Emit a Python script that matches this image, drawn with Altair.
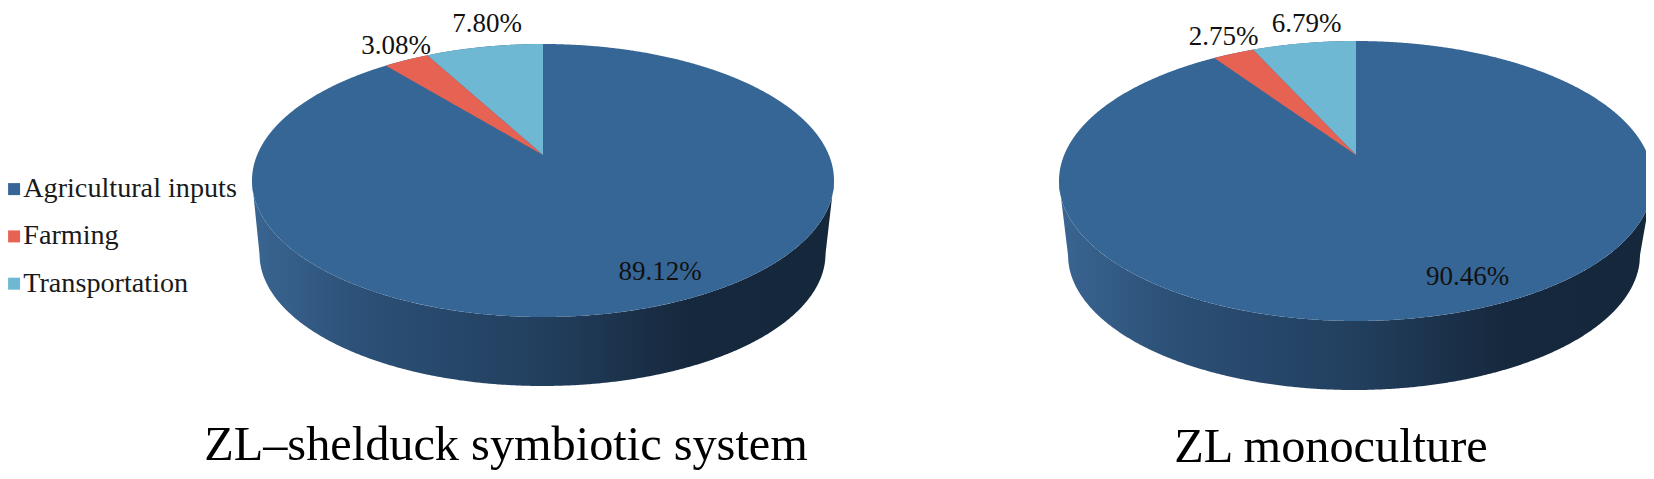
import numpy as np
import pandas as pd
import altair as alt

CATEGORIES = ["Agricultural inputs", "Farming", "Transportation"]
COLORS = ["#366695", "#e66253", "#6fb8d4"]
LEFT_VALUES = [89.12, 3.08, 7.80]
RIGHT_VALUES = [90.46, 2.75, 6.79]
LEFT_TITLE = "ZL\u2013shelduck symbiotic system"
RIGHT_TITLE = "ZL monoculture"
FONT = "Liberation Serif"

# pie geometry: apex, top ellipse, lower ellipse, angular foreshortening
LEFT_GEO = dict(cx=543, cy=180.5, a=291, b=136.5, ay=155, cx2=542.5, cy2=254, a2=283, b2=132, k=0.835)
RIGHT_GEO = dict(cx=1356, cy=181, a=297, b=140, ay=155, cx2=1354, cy2=255, a2=286, b2=135, k=0.83)

LEFT_LABELS = [(660, 272), (396, 46), (487, 24)]
RIGHT_LABELS = [(1467.5, 277), (1223.5, 37), (1306.5, 24)]
LEFT_TITLE_POS = (506, 446)
RIGHT_TITLE_POS = (1331, 448)

XS = alt.X("x:Q", axis=None, scale=alt.Scale(domain=[8, 1646], nice=False, zero=False))
YS = alt.Y("y:Q", axis=None, scale=alt.Scale(domain=[471, 8], nice=False, zero=False))
Y2 = alt.Y2("y2:Q")
COL = alt.Color("cat:N", scale=alt.Scale(domain=CATEGORIES, range=COLORS),
                legend=alt.Legend(title=None, orient="none", legendX=-8, legendY=167, padding=0,
                                  symbolType="square", symbolSize=144, symbolStrokeWidth=0,
                                  labelFont=FONT, labelFontSize=28.2, labelColor="#1a1a1a",
                                  labelLimit=400, labelOffset={"expr": "-5"}, rowPadding=18.3))


def wall_frame(g):
    u = np.cos(np.linspace(np.pi, 0, 500))
    x = g["cx"] + g["a"] * u
    top = g["cy"] + g["b"] * np.sqrt(1 - u ** 2)
    d = (x - g["cx2"]) / g["a2"]
    low = np.where(np.abs(d) <= 1, g["cy2"] + g["b2"] * np.sqrt(np.clip(1 - d ** 2, 0, 1)), 0.0)
    left = x < g["cx2"] - g["a2"]
    right = x > g["cx2"] + g["a2"]
    low[left] = g["cy"] + (g["cy2"] - g["cy"]) * (x[left] - (g["cx"] - g["a"])) / ((g["cx2"] - g["a2"]) - (g["cx"] - g["a"]))
    low[right] = g["cy"] + (g["cy2"] - g["cy"]) * ((g["cx"] + g["a"]) - x[right]) / ((g["cx"] + g["a"]) - (g["cx2"] + g["a2"]))
    return pd.DataFrame({"x": x, "y": low, "y2": top})


def disc_frame(g):
    u = np.cos(np.linspace(np.pi, 0, 700))
    s = np.sqrt(1 - u ** 2)
    return pd.DataFrame({"x": g["cx"] + g["a"] * u, "y": g["cy"] - g["b"] * s, "y2": g["cy"] + g["b"] * s,
                         "cat": CATEGORIES[0]})


def sector_frame(g, v_from, v_to, cat):
    """Sector between cumulative shares v_from and v_to, counted anticlockwise from 12 o'clock."""
    t1 = np.radians(v_from * 3.6 * g["k"])
    t2 = np.radians(v_to * 3.6 * g["k"])
    rx = lambda t: g["cx"] - g["a"] * np.sin(t)
    ry = lambda t: g["cy"] - g["b"] * np.cos(t)
    ts = np.linspace(t2, t1, 60)
    xr = rx(ts)
    yr = ry(ts)
    xl = np.linspace(rx(t1), g["cx"], 40)[1:]
    f1 = (xl - rx(t1)) / (g["cx"] - rx(t1))
    yl = ry(t1) + (g["ay"] - ry(t1)) * f1
    x = np.concatenate([xr, xl])
    upper = np.concatenate([yr, yl])
    f2 = (x - rx(t2)) / (g["cx"] - rx(t2))
    lower = ry(t2) + (g["ay"] - ry(t2)) * f2
    return pd.DataFrame({"x": x, "y": upper, "y2": lower, "cat": cat})


def pie_layers(g, values):
    wall_grad = alt.Gradient(gradient="linear", x1=0, x2=1, y1=0, y2=0, stops=[
        alt.GradientStop(offset=0, color="#3a6592"),
        alt.GradientStop(offset=0.2, color="#2b4f75"),
        alt.GradientStop(offset=0.5, color="#223f5e"),
        alt.GradientStop(offset=0.75, color="#16283d"),
        alt.GradientStop(offset=1, color="#15273b"),
    ])
    layers = [
        alt.Chart(wall_frame(g)).mark_area(color=wall_grad).encode(x=XS, y=YS, y2=Y2),
        alt.Chart(disc_frame(g)).mark_area().encode(x=XS, y=YS, y2=Y2, color=COL),
    ]
    cyan = values[2]
    red = values[1]
    layers.append(alt.Chart(sector_frame(g, 0, cyan, CATEGORIES[2])).mark_area().encode(x=XS, y=YS, y2=Y2, color=COL))
    layers.append(alt.Chart(sector_frame(g, cyan, cyan + red, CATEGORIES[1])).mark_area().encode(x=XS, y=YS, y2=Y2, color=COL))
    return layers


def text_layer(values, positions, title, title_pos):
    df = pd.DataFrame({"x": [p[0] for p in positions], "y": [p[1] for p in positions],
                       "t": [f"{v:.2f}%" for v in values]})
    lab = alt.Chart(df).mark_text(font=FONT, fontSize=27, color="#111111", baseline="middle").encode(x=XS, y=YS, text="t:N")
    tdf = pd.DataFrame({"x": [title_pos[0]], "y": [title_pos[1]], "t": [title]})
    tit = alt.Chart(tdf).mark_text(font=FONT, fontSize=48.3, color="#000000", baseline="middle").encode(x=XS, y=YS, text="t:N")
    return [lab, tit]


layers = (pie_layers(LEFT_GEO, LEFT_VALUES) + pie_layers(RIGHT_GEO, RIGHT_VALUES)
          + text_layer(LEFT_VALUES, LEFT_LABELS, LEFT_TITLE, LEFT_TITLE_POS)
          + text_layer(RIGHT_VALUES, RIGHT_LABELS, RIGHT_TITLE, RIGHT_TITLE_POS))

chart = alt.layer(*layers).properties(
    width=1638, height=463, padding=0, autosize=alt.AutoSizeParams(type="none")
).configure_view(stroke=None)

chart.save("out.html", embed_options={"renderer": "svg", "actions": False})
